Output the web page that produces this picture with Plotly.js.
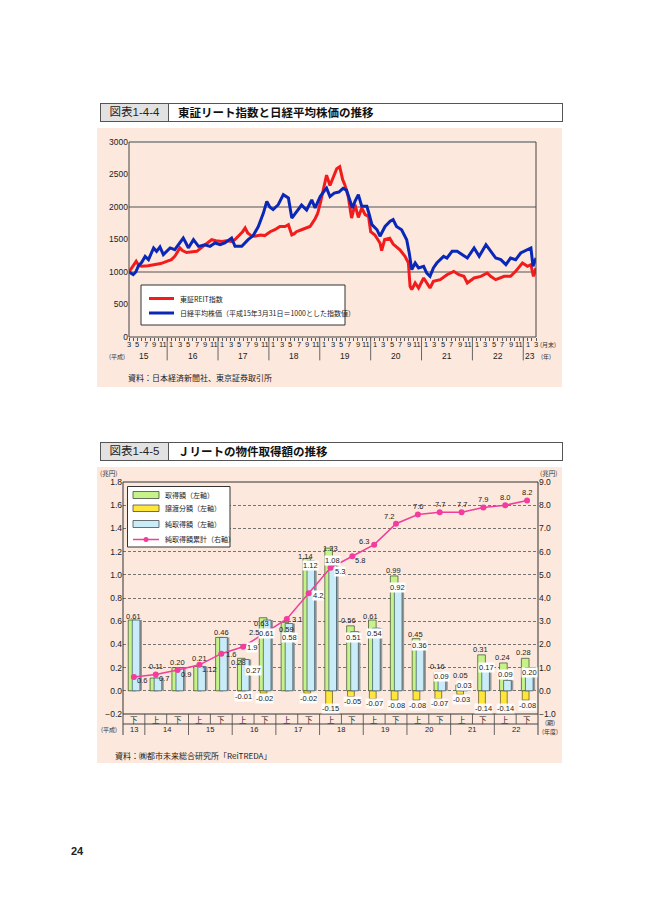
<!DOCTYPE html>
<html><head><meta charset="utf-8">
<script src="https://cdn.plot.ly/plotly-3.0.1.min.js"></script>
<style>
body{margin:0;width:669px;height:916px;background:#fff;position:relative;overflow:hidden;font-family:"Liberation Sans","Noto Sans CJK JP",sans-serif;color:#222}
.tbar{position:absolute;left:100px;width:461px;height:17px;border:1px solid #555;background:#fff}
.tnum{position:absolute;left:0;top:0;width:67px;height:17px;background:#e2e2e2;border-right:1px solid #555;font-size:11.5px;line-height:17px;text-align:center;color:#222}
.ttxt{position:absolute;left:77px;top:0;height:17px;line-height:17px;font-size:11.5px;font-weight:bold;color:#111;font-family:"Noto Sans CJK JP",sans-serif}
.panel{position:absolute;left:97px;width:465px;background:#fce8dd}
.src{position:absolute;font-size:8px;color:#222;font-family:"Noto Sans CJK JP",sans-serif;white-space:nowrap}
.chart{position:absolute;left:97px;width:465px}
.pg{position:absolute;left:71px;top:845px;font-size:11px;font-weight:bold}
</style></head>
<body>
<div class="tbar" style="top:103px"><div class="tnum">図表1-4-4</div><div class="ttxt">東証リート指数と日経平均株価の推移</div></div>
<div class="panel" style="top:128px;height:259px"></div>
<div id="c1" class="chart" style="top:128px;height:259px"></div>
<div class="src" style="left:128px;top:372px">資料：日本経済新聞社、東京証券取引所</div>

<div class="tbar" style="top:442px"><div class="tnum">図表1-4-5</div><div class="ttxt">Ｊリートの物件取得額の推移</div></div>
<div class="panel" style="top:467px;height:296px"></div>
<div id="c2" class="chart" style="top:467px;height:296px"></div>
<div class="src" style="left:115px;top:750px">資料：㈱都市未来総合研究所「ReiTREDA」</div>
<div class="pg">24</div>

<script>
// ---------- Chart 1 data (months since end of March, Heisei 15) ----------
const reitMonth = [0,0.8,1.7,2.3,3,4.5,6.1,7.5,8.9,10,10.8,12,12.6,13.6,15,16,17,17.9,19.5,20.5,21.9,23,24.2,25,25.8,26.8,27.4,28,28.8,29.7,31,32,33.3,34.4,35.6,36.8,37.6,38.4,39,39.5,40.7,41.5,42.7,43.9,44.5,45.2,46.2,46.6,47.4,48.2,49,49.7,50.4,50.9,51.7,52.5,53.3,54.1,54.9,55.7,56.5,57,58,59.2,59.6,60.3,61.5,62.3,63.9,65.1,65.9,66.3,66.7,67.5,68.3,69.5,70.2,71,71.8,73.4,75,76.6,77.8,79,79.8,81.4,83,84.5,85.3,86.5,88.5,90,91.2,92.8,94,94.8,95.4,96];
const reitIndex = [1000,1080,1164,1100,1087,1095,1113,1130,1164,1190,1240,1370,1330,1300,1310,1318,1370,1420,1497,1480,1470,1480,1470,1500,1550,1620,1677,1600,1560,1550,1570,1560,1620,1650,1700,1700,1728,1570,1590,1620,1650,1670,1700,1820,1900,2080,2370,2490,2330,2470,2590,2620,2420,2343,2164,1830,2036,1840,1985,1882,1856,1620,1570,1446,1330,1500,1518,1430,1340,1241,1140,780,728,831,754,908,831,754,856,882,959,1010,959,933,831,908,933,985,933,882,933,933,1010,1138,1087,1113,933,1062];
const nikkeiMonth = [0,1,1.6,2.2,3,3.8,4.6,5.8,6.5,7.3,8.1,9,9.7,10.8,11.6,12.4,12.8,13.4,14,15.2,16.4,17.9,19.1,20.3,21.5,22.6,23.4,24.2,25,26.6,28.1,29.3,30.5,31.7,32.5,33.2,34,35.2,36.4,37.6,38.4,39.5,40.7,41.9,43.1,43.9,45.1,46.2,46.6,47.4,48.4,49.5,50.5,51.3,52.1,52.7,53.3,54.1,54.9,56.1,56.6,57.3,58.5,59.2,60.4,61.6,62.3,63.1,64.3,65.5,66.1,66.7,67.5,68.3,69.5,70.2,71,71.8,72.6,74.2,75,76.2,77.4,78.6,79.8,81.4,82.6,84.2,85.3,86.5,87.7,88.9,90,91.2,92.4,94,94.8,95.3,96];
const nikkeiIndex = [1000,960,1000,1090,1150,1240,1190,1370,1318,1385,1267,1330,1370,1344,1420,1497,1523,1450,1370,1497,1395,1420,1395,1446,1420,1446,1480,1523,1395,1395,1497,1560,1700,1907,2087,2000,1960,2035,2190,2140,1830,1928,2030,1954,2110,1985,2160,2260,2290,2160,2215,2230,2287,2260,2108,1985,2087,2190,2010,2010,1900,1728,1650,1550,1700,1780,1805,1700,1650,1497,1292,1036,1138,1062,1087,985,933,1062,1138,1241,1215,1318,1318,1267,1215,1370,1241,1420,1318,1215,1190,1113,1215,1190,1292,1344,1370,1087,1215];
const monthLabelCycle = ['3','5','7','9','11','1'];
const yearLabels = ['15','16','17','18','19','20','21','22','23'];
const yearLabelMonth = [3.5,15,27,39,51,63,75,87,94.5];
const yearBoundaryMonth = [9,21,33,45,57,69,81,93];
const indexTicks = [0,500,1000,1500,2000,2500,3000];
const seriesNames1 = ['東証REIT指数','日経平均株価（平成15年3月31日＝1000とした指数値）'];

// ---------- Chart 2 data ----------
const halfLabels = ['下','上','下','上','下','上','下','上','下','上','下','上','下','上','下','上','下','上','下'];
const fiscalYears = ['13','14','15','16','17','18','19','20','21','22'];
const fiscalYearPeriods = [1,2,2,2,2,2,2,2,2,2];
const acquisition = [0.61,0.11,0.20,0.21,0.46,0.28,0.63,0.59,1.14,1.23,0.56,0.61,0.99,0.45,0.16,0.05,0.31,0.24,0.28];
const transfer = [null,null,null,null,null,-0.01,-0.02,null,-0.02,-0.15,-0.05,-0.07,-0.08,-0.08,-0.07,-0.03,-0.14,-0.14,-0.08];
const netAcquisition = [0.61,0.11,0.20,0.21,0.46,0.27,0.61,0.58,1.12,1.08,0.51,0.54,0.92,0.36,0.09,0.03,0.17,0.09,0.20];
const netLabels = [null,null,null,null,null,'0.27','0.61','0.58','1.12','1.08','0.51','0.54','0.92','0.36','0.09','0.03','0.17','0.09','0.20'];
const cumulative = [0.6,0.7,0.9,1.12,1.6,1.9,2.5,3.1,4.2,5.3,5.8,6.3,7.2,7.6,7.7,7.7,7.9,8.0,8.2];
const seriesNames2 = ['取得額（左軸）','譲渡分額（左軸）','純取得額（左軸）','純取得額累計（右軸）'];

// ---------- label placement styles (pixels; dy = downward from the value) ----------
const greenLabelDx = [0,0,0,0,0,-5,-3,0,-3,0,-3.5,-3.5,-2.5,-2.5,-2.5,-1,-3,-2.5,-3.5];
const greenLabelDy = [-4,-12,-5,-8,-5,4.5,6,6.7,-2,0,-5,-4,-5,-4,-6,-9.5,-5,-5,-6];
const blueLabelDx = [0,0,0,0,0,10,2,2.5,2,2,1.5,0.6,1.5,2,2,3,3,0.7,2.6];
const blueLabelDy = [0,0,0,0,0,11,13,13.5,5,-5,5.4,5,3.6,-4,-4,-2,-4,-5.6,4.5];
const cumLabelDx = [8,8,8,10,10,9,-11,10,9,9,8,-10,-7,0,0,0,0,0,0];
const cumLabelDy = [4,4,5,5,1,1,0,1,2,4,4,-3,-7,-8,-8,-8,-8,-8,-8];
const cumLabelBox = [0,0,0,0,0,1,0,0,1,1,0,0,0,0,0,0,0,0,0];

const FONT = '"Liberation Sans","Noto Sans CJK JP",sans-serif';
const JFONT = '"Noto Sans CJK JP",sans-serif';
const A = o => Object.assign({showarrow:false,xanchor:'center',yanchor:'middle'}, o);

// ================= Chart 1 =================
(function(){
  const W=465,H=259,L=32,R=26,T=14,B=50;
  const pw=W-L-R, ph=H-T-B;
  const fx = x => (x-97-L)/pw;          // page px -> paper x
  const fy = y => (128+T+ph-y)/ph;      // page px -> paper y
  const tickvals=[], ticktext=[], minorvals=[];
  for(let m=0;m<=96;m+=2){ tickvals.push(m); ticktext.push(monthLabelCycle[(m/2)%6]); }
  for(let m=1;m<96;m+=2) minorvals.push(m);
  const shapes=[
    {type:'line',xref:'paper',yref:'y',x0:0,x1:1,y0:1000,y1:1000,line:{color:'#555',width:1},layer:'below'},
    {type:'line',xref:'paper',yref:'y',x0:0,x1:1,y0:2000,y1:2000,line:{color:'#555',width:1},layer:'below'},
    {type:'line',xref:'paper',yref:'paper',x0:0,x1:1,y0:1,y1:1,line:{color:'#9a9a9a',width:2}},
    {type:'line',xref:'paper',yref:'paper',x0:0,x1:0,y0:0,y1:1,line:{color:'#444',width:1}},
    {type:'line',xref:'paper',yref:'paper',x0:1,x1:1,y0:0,y1:1,line:{color:'#444',width:1}},
    {type:'line',xref:'paper',yref:'paper',x0:0,x1:1,y0:0,y1:0,line:{color:'#444',width:1}},
    // legend box
    {type:'rect',xref:'paper',yref:'paper',x0:fx(141),x1:fx(345),y0:fy(325),y1:fy(285),fillcolor:'#fff',line:{color:'#333',width:1}},
    {type:'line',xref:'paper',yref:'paper',x0:fx(149),x1:fx(174),y0:fy(298.5),y1:fy(298.5),line:{color:'#f21c1c',width:3}},
    {type:'line',xref:'paper',yref:'paper',x0:fx(149),x1:fx(174),y0:fy(313),y1:fy(313),line:{color:'#0a28b8',width:3}}
  ];
  yearBoundaryMonth.forEach(m=>shapes.push({type:'line',xref:'x',yref:'paper',x0:m,x1:m,y0:0,y1:-0.12,line:{color:'#666',width:1}}));
  const ann=[
    A({xref:'paper',yref:'paper',x:fx(178),y:fy(298.5),text:seriesNames1[0],xanchor:'left',font:{size:7,family:JFONT,color:'#222'}}),
    A({xref:'paper',yref:'paper',x:fx(178),y:fy(313),text:seriesNames1[1],xanchor:'left',font:{size:7,family:JFONT,color:'#222'}}),
    A({xref:'paper',yref:'paper',x:fx(117),y:fy(356),text:'(平成)',font:{size:6,family:JFONT,color:'#333'}}),
    A({xref:'paper',yref:'paper',x:fx(548),y:fy(344.5),text:'(月末)',font:{size:6,family:JFONT,color:'#333'}}),
    A({xref:'paper',yref:'paper',x:fx(546),y:fy(356.5),text:'(年)',font:{size:6,family:JFONT,color:'#333'}})
  ];
  tickvals.forEach((m,i)=>ann.push(A({xref:'x',yref:'paper',x:m,y:fy(344.5),text:ticktext[i],font:{size:7.5,family:FONT,color:'#222'}})));
  yearLabels.forEach((t,i)=>ann.push(A({xref:'x',yref:'paper',x:yearLabelMonth[i],y:fy(356),text:t,font:{size:8.5,family:FONT,color:'#222'}})));
  const traces=[
    {x:reitMonth,y:reitIndex,type:'scatter',mode:'lines',name:seriesNames1[0],line:{color:'#f21c1c',width:3}},
    {x:nikkeiMonth,y:nikkeiIndex,type:'scatter',mode:'lines',name:seriesNames1[1],line:{color:'#0a28b8',width:3}}
  ];
  Plotly.newPlot('c1',traces,{
    width:W,height:H,margin:{l:L,r:R,t:T,b:B,pad:0},
    paper_bgcolor:'rgba(0,0,0,0)',plot_bgcolor:'#fce8dd',showlegend:false,
    font:{family:FONT,size:8.5,color:'#222'},
    xaxis:{range:[0,96],tickmode:'array',tickvals:tickvals,showticklabels:false,ticks:'outside',ticklen:3,tickcolor:'#555',
      showgrid:false,zeroline:false,showline:false,automargin:false,
      minor:{tickmode:'array',tickvals:minorvals,ticks:'outside',ticklen:3,tickcolor:'#555',showgrid:false}},
    yaxis:{range:[0,3000],tickmode:'array',tickvals:indexTicks,showgrid:false,zeroline:false,showline:false,ticks:'',automargin:false,tickfont:{size:8.5}},
    shapes:shapes,annotations:ann
  },{staticPlot:true});
})();

// ================= Chart 2 =================
(function(){
  const W=465,H=296,L=26,R=24,T=15,B=49;
  const pw=W-L-R, ph=H-T-B;
  const fx = x => (x-97-L)/pw;
  const fy = y => (467+T+ph-y)/ph;
  const idx = acquisition.map((_,i)=>i);
  const row1 = fy(724), row2 = fy(735);
  const shapes=[
    {type:'rect',xref:'paper',yref:'paper',x0:0,x1:1,y0:0,y1:1,line:{color:'#333',width:1}},
    {type:'line',xref:'paper',yref:'paper',x0:0,x1:1,y0:row1,y1:row1,line:{color:'#444',width:1}},
    {type:'line',xref:'paper',yref:'paper',x0:0,x1:0,y0:0,y1:row2,line:{color:'#444',width:1}},
    {type:'line',xref:'paper',yref:'paper',x0:1,x1:1,y0:0,y1:row2,line:{color:'#444',width:1}},
    // legend
    {type:'rect',xref:'paper',yref:'paper',x0:fx(127.5),x1:fx(230),y0:fy(547),y1:fy(486.5),fillcolor:'#fff',line:{color:'#333',width:1}},
    {type:'rect',xref:'paper',yref:'paper',x0:fx(133),x1:fx(159),y0:fy(498.5),y1:fy(491.5),fillcolor:'#c6f28a',line:{color:'#333',width:0.7}},
    {type:'rect',xref:'paper',yref:'paper',x0:fx(133),x1:fx(159),y0:fy(511.5),y1:fy(505),fillcolor:'#ffe63a',line:{color:'#333',width:0.7}},
    {type:'rect',xref:'paper',yref:'paper',x0:fx(133),x1:fx(159),y0:fy(527.5),y1:fy(520.5),fillcolor:'#c9ecf8',line:{color:'#333',width:0.7}},
    {type:'line',xref:'paper',yref:'paper',x0:fx(133),x1:fx(159),y0:fy(539.5),y1:fy(539.5),line:{color:'#f23d9c',width:1.5}},
    {type:'circle',xref:'paper',yref:'paper',x0:fx(143.5),x1:fx(148.5),y0:fy(542),y1:fy(537),fillcolor:'#f23d9c',line:{color:'#f23d9c',width:0}}
  ];
  for(let i=0;i<halfLabels.length-1;i++) shapes.push({type:'line',xref:'x',yref:'paper',x0:i+0.5,x1:i+0.5,y0:0,y1:row1,line:{color:'#444',width:0.8}});
  let start=0; const yearCenters=[];
  fiscalYearPeriods.forEach((n,k)=>{
    yearCenters.push(start+(n-1)/2);
    if(k<fiscalYearPeriods.length-1) shapes.push({type:'line',xref:'x',yref:'paper',x0:start+n-0.5,x1:start+n-0.5,y0:row1,y1:row2,line:{color:'#444',width:0.8}});
    start+=n;
  });
  const ann=[
    A({xref:'paper',yref:'paper',x:fx(108),y:fy(473),text:'(兆円)',font:{size:6.5,family:JFONT,color:'#333'}}),
    A({xref:'paper',yref:'paper',x:fx(549),y:fy(473),text:'(兆円)',font:{size:6.5,family:JFONT,color:'#333'}}),
    A({xref:'paper',yref:'paper',x:fx(109),y:fy(729.5),text:'(平成)',font:{size:6,family:JFONT,color:'#333'}}),
    A({xref:'paper',yref:'paper',x:fx(550),y:fy(722.5),text:'(期)',font:{size:6,family:JFONT,color:'#333'}}),
    A({xref:'paper',yref:'paper',x:fx(550),y:fy(731),text:'(年度)',font:{size:6,family:JFONT,color:'#333'}})
  ];
  const ly=[495,508.3,524,539.5];
  seriesNames2.forEach((t,k)=>ann.push(A({xref:'paper',yref:'paper',x:fx(163),y:fy(ly[k]),text:t,xanchor:'left',font:{size:7,family:JFONT,color:'#222'}})));
  halfLabels.forEach((t,i)=>ann.push(A({xref:'x',yref:'paper',x:i,y:fy(719),text:t,font:{size:7.5,family:JFONT,color:'#222'}})));
  fiscalYears.forEach((t,k)=>ann.push(A({xref:'x',yref:'paper',x:yearCenters[k],y:fy(729.5),text:t,font:{size:7.5,family:FONT,color:'#222'}})));
  acquisition.forEach((v,i)=>ann.push(A({xref:'x',yref:'y',x:i,y:v,text:v.toFixed(2),xshift:greenLabelDx[i],yshift:-greenLabelDy[i],borderpad:0,font:{size:7.5,color:'#222'}})));
  netLabels.forEach((t,i)=>{ if(t) ann.push(A({xref:'x',yref:'y',x:i,y:netAcquisition[i],text:t,xshift:blueLabelDx[i],yshift:-blueLabelDy[i],bgcolor:'#fff',borderpad:0,font:{size:7.5,color:'#222'}})); });
  transfer.forEach((v,i)=>{ if(v!==null) ann.push(A({xref:'x',yref:'y',x:i,y:Math.max(v,-0.11),text:v.toFixed(2),yshift:-5,bgcolor:'rgba(255,255,255,0.85)',borderpad:0,font:{size:7.5,color:'#222'}})); });
  cumulative.forEach((v,i)=>ann.push(A({xref:'x',yref:'y2',x:i,y:v,text:(v%1===0?v.toFixed(1):String(v)),xshift:cumLabelDx[i],yshift:-cumLabelDy[i],
    bgcolor:cumLabelBox[i]?'#fff':'rgba(0,0,0,0)',borderpad:0,font:{size:7.5,color:'#222'}})));
  const traces=[
    {x:idx,y:acquisition,type:'bar',name:seriesNames2[0],offset:-0.26,width:0.35,marker:{color:'#c6f28a',line:{color:'#3d4a2a',width:0.7}}},
    {x:idx,y:transfer,type:'bar',name:seriesNames2[1],offset:-0.22,width:0.31,marker:{color:'#ffe63a',line:{color:'#5a5020',width:0.7}}},
    {x:idx,y:netAcquisition,type:'bar',name:'shadow',offset:0.02,width:0.35,marker:{color:'#9a9a9a',line:{width:0}}},
    {x:idx,y:netAcquisition,type:'bar',name:seriesNames2[2],offset:-0.075,width:0.35,marker:{color:'#c9ecf8',line:{color:'#34505a',width:0.7}}},
    {x:idx,y:cumulative,type:'scatter',mode:'lines+markers',name:seriesNames2[3],yaxis:'y2',
      line:{color:'#f23d9c',width:1.5},marker:{color:'#f23d9c',size:6},cliponaxis:false}
  ];
  Plotly.newPlot('c2',traces,{
    width:W,height:H,margin:{l:L,r:R,t:T,b:B,pad:0},
    paper_bgcolor:'rgba(0,0,0,0)',plot_bgcolor:'#fce8dd',showlegend:false,barmode:'overlay',
    font:{family:FONT,size:8.5,color:'#222'},
    xaxis:{range:[-0.5,18.5],showticklabels:false,ticks:'',showgrid:false,zeroline:false,showline:false,automargin:false},
    yaxis:{range:[-0.2,1.8],dtick:0.2,tick0:0,tickformat:'.1f',showgrid:true,gridcolor:'#555',griddash:'3px,2px',gridwidth:0.8,zeroline:false,showline:false,ticks:'',automargin:false,tickfont:{size:8.5}},
    yaxis2:{range:[-1,9],dtick:1,tick0:0,tickformat:'.1f',overlaying:'y',side:'right',showgrid:false,zeroline:false,showline:false,ticks:'',automargin:false,tickfont:{size:8.5}},
    shapes:shapes,annotations:ann
  },{staticPlot:true});
})();
</script>
</body></html>
